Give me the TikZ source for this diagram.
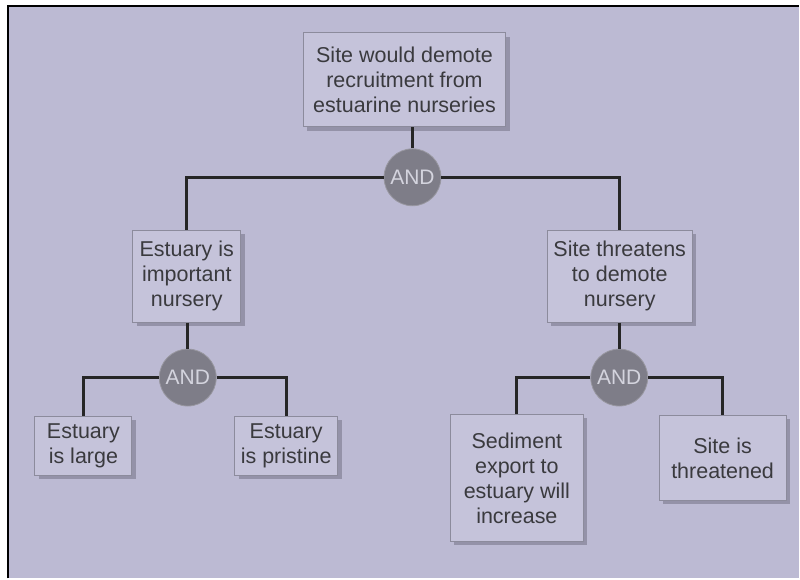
\documentclass[tikz,border=0pt]{standalone}
\usepackage{fontspec}
\setmainfont{Liberation Sans}
\usetikzlibrary{shadows}
\definecolor{bglav}{HTML}{BCBAD3}
\definecolor{boxlav}{HTML}{C5C3DA}
\definecolor{boxline}{HTML}{8C8B9C}
\definecolor{shadegray}{HTML}{9492A8}
\definecolor{andgray}{HTML}{7E7D88}
\definecolor{andtext}{HTML}{D4D4DE}
\definecolor{txtgray}{HTML}{3A3A3E}
\begin{document}
\begin{tikzpicture}[x=0.5pt,y=-0.5pt]
\tikzstyle{goal}=[draw=boxline, line width=0.5pt, fill=boxlav, text=txtgray, align=center, inner sep=0pt,
  font=\fontsize{10.75}{12.5}\selectfont,
  drop shadow={shadow xshift=2pt, shadow yshift=-2pt, fill=shadegray, opacity=1}]
\tikzstyle{andgate}=[circle, fill=andgray, draw=andgray!80!white, line width=0.4pt, text=andtext, inner sep=0pt,
  minimum size=28.5pt, font=\fontsize{10.5}{12}\selectfont]
\tikzstyle{link}=[draw=black!85, line width=1.5pt]
\fill [white] (0,0) rectangle (800,579);
\fill [bglav] (8,6) rectangle (800,579);
\draw [black, line width=1pt] (8.5,579) -- (8.5,6.5) -- (800,6.5);
\node [goal, minimum width=101.5pt, minimum height=47pt] (top) at (405,80) {Site would demote\\recruitment from\\estuarine nurseries};
\node [goal, minimum width=54pt, minimum height=46pt] (imp) at (187,276.5) {Estuary is\\important\\nursery};
\node [goal, minimum width=72.5pt, minimum height=46pt] (thr) at (620.5,276.5) {Site threatens\\to demote\\nursery};
\node [goal, minimum width=48.5pt, minimum height=29.5pt] (large) at (83.5,446.5) {Estuary\\is large};
\node [goal, minimum width=51.5pt, minimum height=29.5pt] (pristine) at (286.5,446.5) {Estuary\\is pristine};
\node [goal, minimum width=66.5pt, minimum height=63.5pt] (sediment) at (517.5,478.5) {Sediment\\export to\\estuary will\\increase};
\node [goal, minimum width=63.5pt, minimum height=42.5pt] (threatened) at (723.5,458.5) {Site is\\threatened};
\node [andgate] (and1) at (413,177.5) {AND};
\node [andgate] (and2) at (188,378) {AND};
\node [andgate] (and3) at (620,378) {AND};
\draw [link] (and1 |- top.south) -- (and1.north);
\draw [link] (and1.west) -| (imp.north);
\draw [link] (and1.east) -| (thr.north);
\draw [link] (imp.south -| and2) -- (and2.north);
\draw [link] (and2.west) -| (large.north);
\draw [link] (and2.east) -| (pristine.north);
\draw [link] (thr.south -| and3) -- (and3.north);
\draw [link] (and3.west) -| (sediment.north);
\draw [link] (and3.east) -| (threatened.north);
\end{tikzpicture}
\end{document}
